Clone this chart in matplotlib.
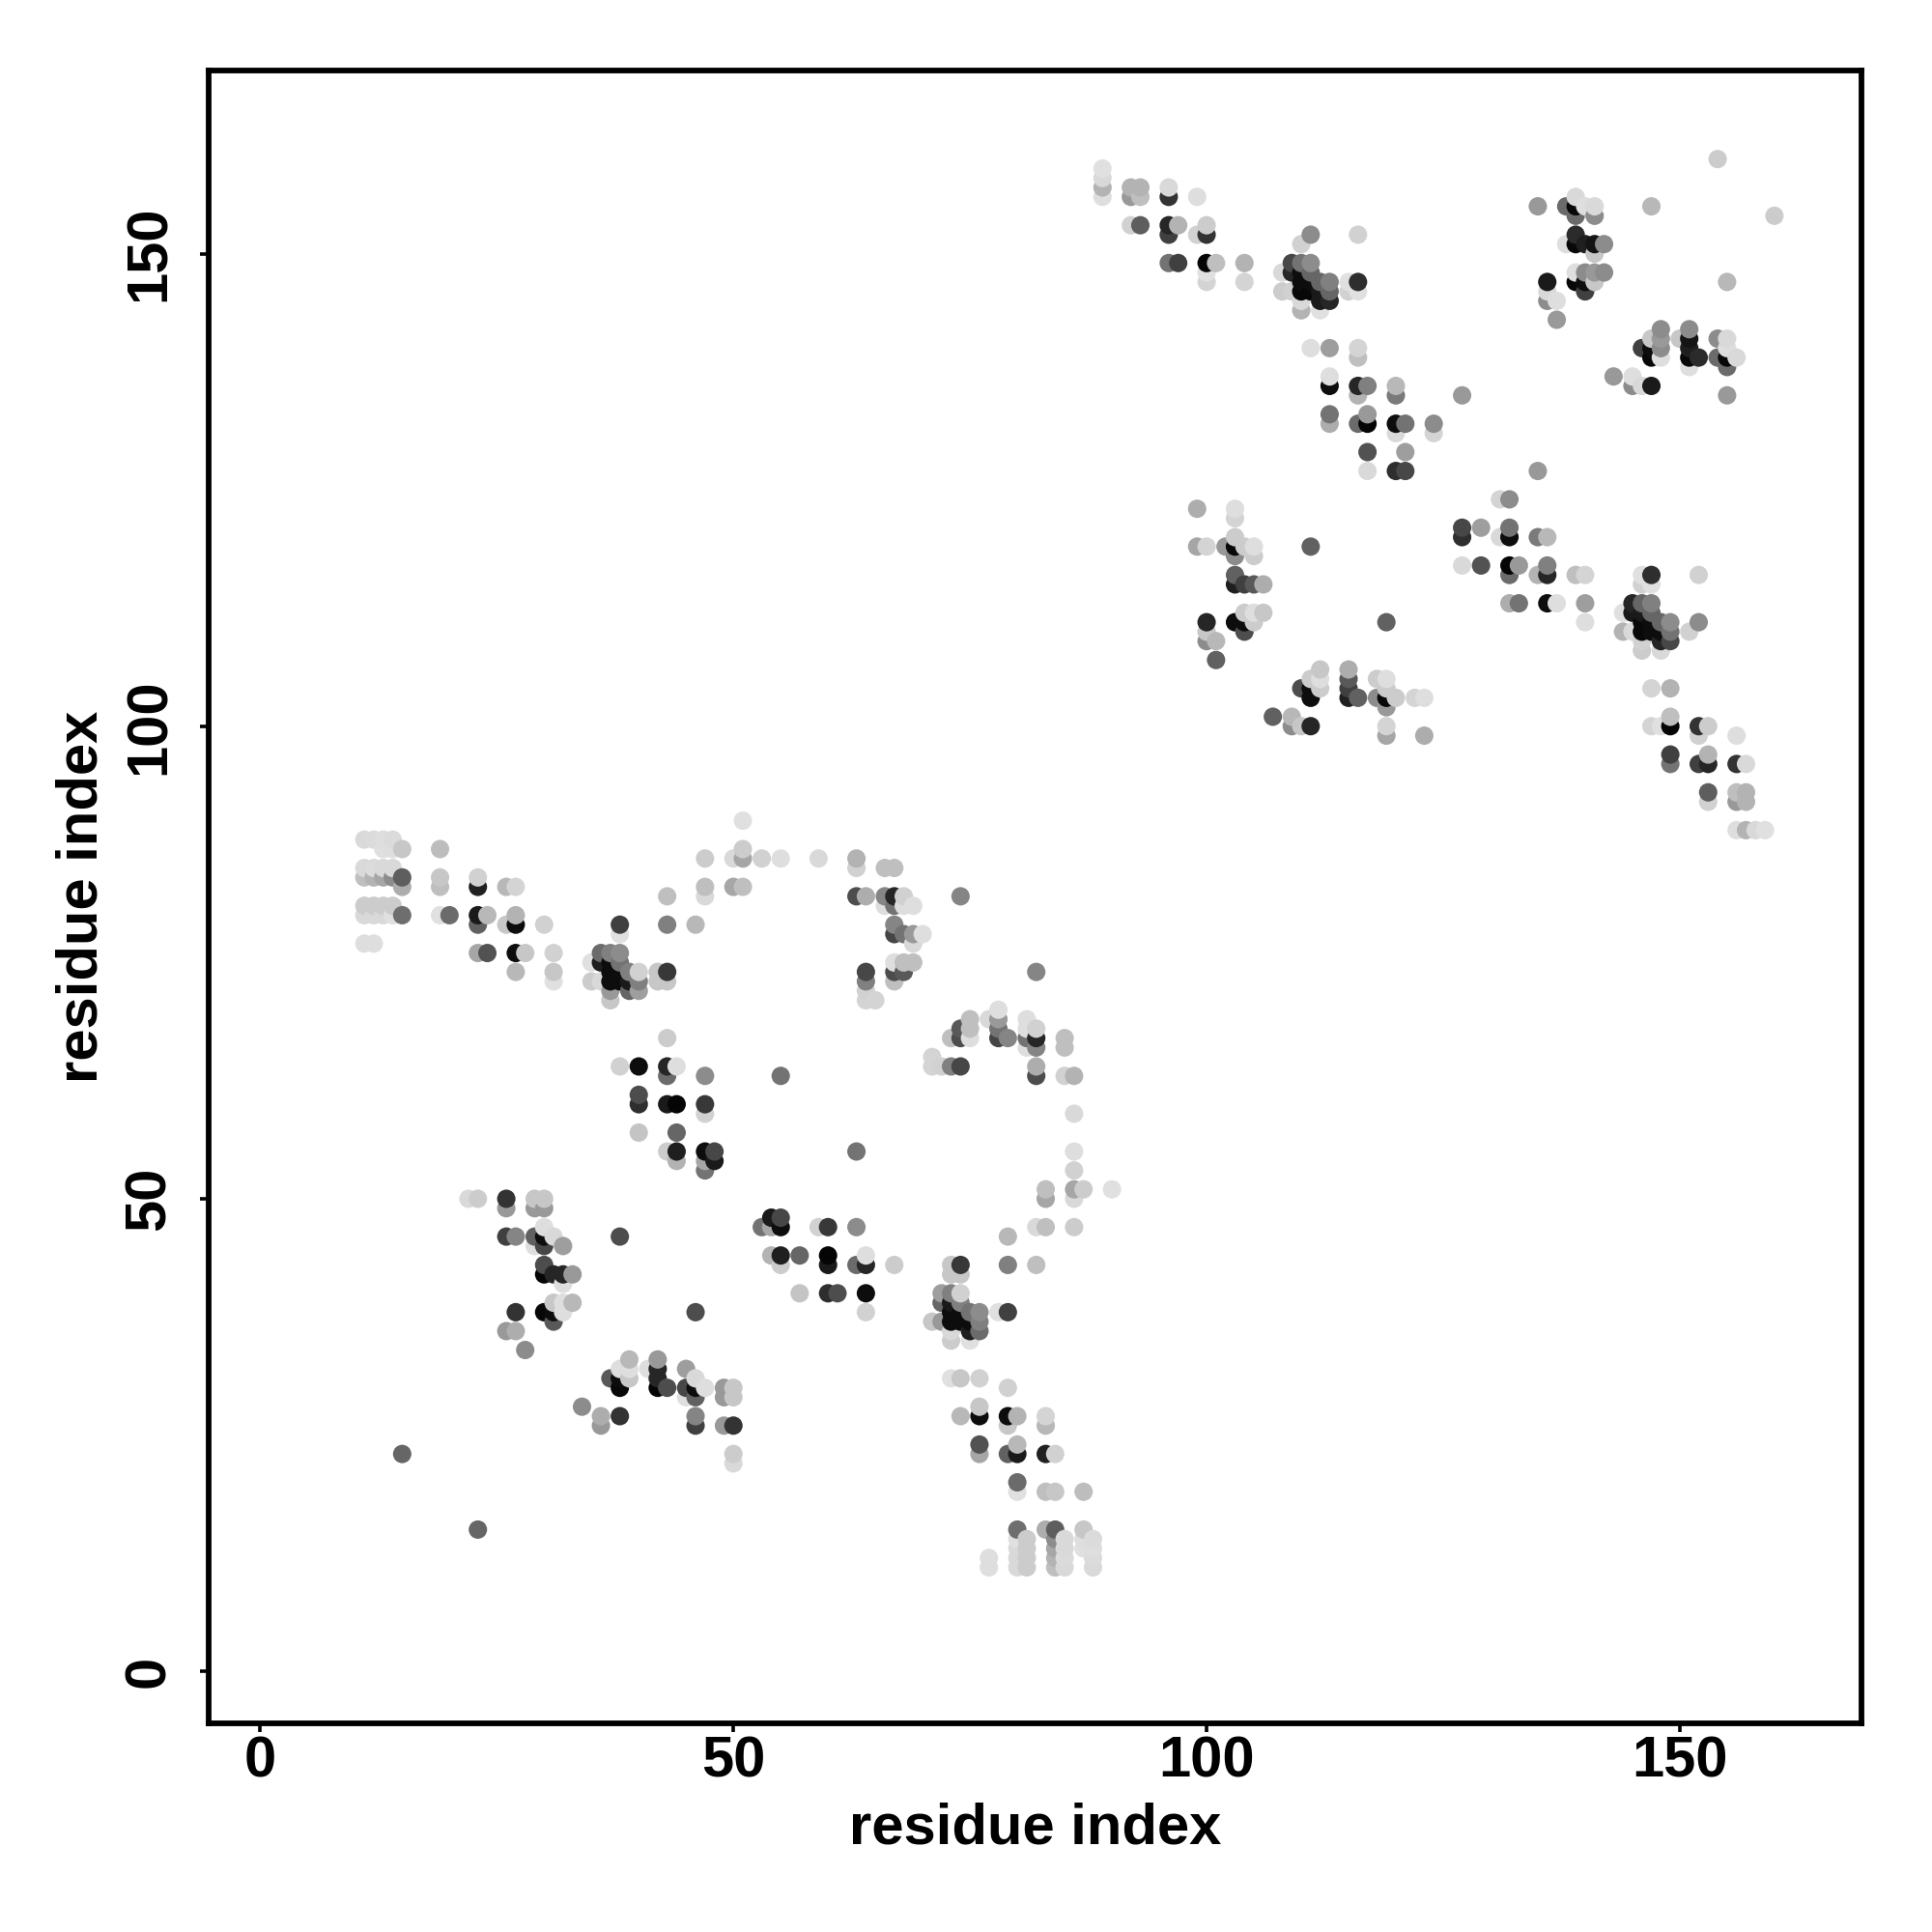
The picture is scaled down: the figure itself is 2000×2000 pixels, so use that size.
import matplotlib
matplotlib.use("Agg")
import matplotlib.pyplot as plt

# contacts as (i, j, grey level), only i < j, the map is mirrored below
left_arm_a = [
    (11, 88, .85), (12, 88, .86), (13, 88, .87), (14, 88, .86), (13, 87, .88), (14, 87, .87),
    (15, 87, .78), (19, 87, .74), (11, 85, .85), (12, 85, .86), (13, 85, .85), (14, 85, .85),
    (11, 84, .75), (12, 84, .7), (13, 84, .65), (14, 84, .55), (15, 84, .37), (19, 84, .78),
    (23, 84, .82), (15, 83, .68), (19, 83, .75), (23, 83, .13), (26, 83, .72), (27, 83, .83),
    (11, 81, .8), (12, 81, .8), (13, 81, .8), (14, 81, .8), (11, 80, .85), (12, 80, .85),
    (13, 80, .85), (14, 80, .88), (15, 80, .43), (19, 80, .88), (20, 80, .42), (23, 80, .1),
    (24, 80, .72), (27, 80, .7), (23, 79, .38), (26, 79, .78), (27, 79, .05), (30, 79, .82),
    (11, 77, .87), (12, 77, .87), (23, 76, .65), (24, 76, .32), (27, 76, .05), (28, 76, .78),
    (31, 76, .82), (27, 74, .72), (31, 74, .78), (31, 73, .88),
]
left_arm_b = [
    (38, 79, .25), (38, 78, .88), (43, 79, .5), (43, 82, .75), (36, 76, .42), (37, 76, .5),
    (38, 76, .55), (35, 75, .88), (36, 75, .12), (37, 75, .05), (38, 75, .45), (37, 74, .05),
    (38, 74, .05), (39, 74, .5), (40, 74, .82), (42, 74, .78), (43, 74, .22), (35, 73, .8),
    (36, 73, .85), (37, 73, .05), (38, 73, .05), (39, 73, .1), (40, 73, .5), (42, 73, .78),
    (43, 73, .78), (37, 72, .6), (39, 72, .4), (40, 72, .62), (37, 71, .78),
]
mid_low = [
    (43, 67, .8), (38, 64, .82), (40, 64, .05), (43, 64, .15), (44, 64, .87), (43, 63, .42),
    (47, 63, .55), (55, 63, .45), (40, 61, .3), (40, 60, .18), (43, 60, .1), (44, 60, .02),
    (47, 60, .22), (47, 59, .82), (40, 57, .77), (44, 57, .4), (43, 55, .8), (44, 55, .12),
    (44, 54, .7), (47, 55, .05), (48, 55, .28), (48, 54, .1), (47, 54, .65), (47, 53, .45),
]
mid_high = [
    (51, 90, .88), (47, 86, .8), (50, 86, .85), (51, 86, .65), (51, 87, .8), (53, 86, .82),
    (55, 86, .87), (59, 86, .85), (63, 86, .7), (63, 85, .82), (66, 85, .75), (67, 85, .75),
    (47, 83, .75), (47, 82, .85), (50, 83, .65), (51, 83, .75), (46, 79, .72), (63, 82, .3),
    (64, 82, .68), (66, 82, .52), (67, 82, .15), (66, 81, .87), (67, 81, .45), (68, 82, .82),
    (68, 81, .87), (69, 81, .87), (67, 79, .52), (67, 78, .27), (68, 78, .45), (69, 78, .6),
    (70, 78, .87), (69, 77, .85), (67, 75, .87), (68, 75, .75), (69, 75, .75), (64, 74, .28),
    (67, 74, .3), (68, 74, .35), (67, 73, .75), (64, 73, .5), (64, 72, .82), (64, 71, .83),
    (65, 71, .83), (74, 82, .52),
]
low_cluster = [
    (22, 50, .85), (23, 50, .8), (26, 50, .2), (26, 49, .6), (29, 50, .78), (30, 50, .78),
    (29, 49, .6), (30, 49, .6), (26, 46, .25), (27, 46, .52), (29, 46, .38), (30, 46, .05),
    (30, 47, .87), (31, 46, .85), (30, 45, .28), (29, 45, .87), (32, 45, .62), (30, 43, .3),
    (30, 42, .02), (31, 42, .15), (32, 42, .15), (33, 42, .6), (32, 41, .87), (27, 38, .2),
    (30, 38, .03), (31, 38, .05), (31, 39, .78), (32, 39, .87), (33, 39, .72), (32, 38, .87),
    (31, 37, .35), (26, 36, .6), (27, 36, .68), (28, 34, .55), (38, 46, .3), (15, 23, .4),
]
high_a = [
    (89, 159, .88), (89, 158, .85), (89, 157, .7), (89, 156, .87), (92, 157, .7), (93, 157, .7),
    (92, 156, .6), (93, 156, .75), (96, 157, .85), (96, 156, .2), (99, 156, .87), (92, 153, .82),
    (93, 153, .37), (96, 153, .15), (97, 153, .7), (96, 152, .25), (100, 153, .8), (99, 152, .82),
    (100, 152, .2), (96, 149, .45), (97, 149, .25), (100, 149, .02), (101, 149, .75),
    (104, 149, .7), (100, 148, .88), (100, 147, .83), (104, 147, .83),
]
high_b = [
    (111, 152, .55), (110, 151, .82), (116, 152, .82), (109, 149, .28), (110, 149, .45),
    (111, 149, .55), (108, 148, .85), (109, 148, .15), (110, 148, .05), (111, 148, .4),
    (110, 147, .05), (111, 147, .05), (112, 147, .4), (113, 147, .5), (115, 147, .88),
    (116, 147, .18), (108, 146, .8), (109, 146, .82), (110, 146, .03), (111, 146, .03),
    (112, 146, .1), (113, 146, .4), (115, 146, .82), (116, 146, .88), (110, 145, .85),
    (112, 145, .1), (113, 145, .15), (110, 144, .7), (112, 144, .88),
]
high_c = [
    (111, 140, .87), (113, 140, .62), (116, 140, .83), (116, 139, .75), (113, 137, .87),
    (113, 136, .05), (116, 136, .15), (117, 136, .5), (116, 135, .7), (120, 136, .72),
    (120, 135, .48), (127, 135, .6), (113, 133, .45), (113, 132, .68), (116, 132, .42),
    (117, 132, .02), (117, 133, .6), (120, 132, .05), (121, 132, .45), (120, 131, .85),
    (124, 132, .55), (124, 131, .83), (117, 129, .32), (121, 129, .62), (117, 127, .85),
    (120, 127, .18), (121, 127, .28),
]
high_d = [
    (154, 160, .8), (135, 155, .6), (138, 155, .42), (139, 156, .85), (139, 155, .03),
    (140, 155, .87), (141, 155, .85), (139, 154, .42), (141, 154, .55), (147, 155, .72),
    (139, 152, .17), (139, 151, .03), (138, 151, .87), (140, 151, .12),
    (141, 151, .08), (142, 151, .55), (141, 150, .78), (136, 147, .1), (136, 146, .85),
    (136, 145, .55), (137, 145, .87), (137, 143, .6), (139, 148, .87), (139, 147, .03),
    (140, 148, .55), (141, 148, .6), (142, 148, .55), (140, 147, .05), (141, 147, .78),
    (140, 146, .25),
]
high_e = [
    (99, 123, .68), (103, 123, .87), (103, 122, .83), (99, 119, .65), (100, 119, .83),
    (102, 119, .6), (103, 120, .8), (103, 119, .03), (104, 119, .8), (105, 119, .87),
    (103, 118, .55), (105, 118, .8), (111, 119, .38), (103, 116, .38), (103, 115, .12),
    (104, 115, .25), (105, 115, .35), (106, 115, .68), (104, 112, .8), (105, 112, .87),
    (106, 112, .78), (105, 111, .8), (100, 111, .15), (103, 111, .05), (104, 111, .05),
    (104, 110, .3), (100, 110, .78), (100, 109, .55), (101, 109, .72), (101, 107, .38),
]
clusters = [left_arm_a, left_arm_b, mid_low, mid_high, low_cluster,
            high_a, high_b, high_c, high_d, high_e]

ticks = [0, 50, 100, 150]

contacts = set()
for cl in clusters:
    for i, j, g in cl:
        contacts.add((i, j, g))
        contacts.add((j, i, g))
# later columns and higher rows lie on top in the original
contacts = sorted(contacts, key=lambda c: (c[0], c[1]))
xs = [c[0] for c in contacts]
ys = [c[1] for c in contacts]
greys = [str(c[2]) for c in contacts]

plt.rcParams["font.family"] = ["Liberation Sans", "DejaVu Sans"]
plt.rcParams["font.weight"] = "bold"

fig = plt.figure(figsize=(10, 10), dpi=200)
ax = fig.add_axes([215.7 / 2000, 1 - 1784 / 2000, (1927 - 215.7) / 2000, (1784 - 72.7) / 2000])
ax.scatter(xs, ys, s=47, c=greys, linewidths=0, zorder=2)
ax.set_xlim(-5.48, 169.2)
ax.set_ylim(-5.5, 169.4)
for s in ax.spines.values():
    s.set_linewidth(2.1)
ax.set_xticks(ticks)
ax.set_yticks(ticks)
ax.tick_params(length=3.2, width=1.3, labelsize=21.5)
ax.tick_params(axis="x", pad=1.2)
ax.tick_params(axis="y", pad=8.8)
for t in ax.get_yticklabels():
    t.set_rotation(90)
    t.set_va("center")
ax.set_xlabel("residue index", fontsize=21.5, fontweight="bold", labelpad=5)
ax.set_ylabel("residue index", fontsize=21.5, fontweight="bold", labelpad=5.5)
fig.savefig("out.png", dpi=200, facecolor="white")
